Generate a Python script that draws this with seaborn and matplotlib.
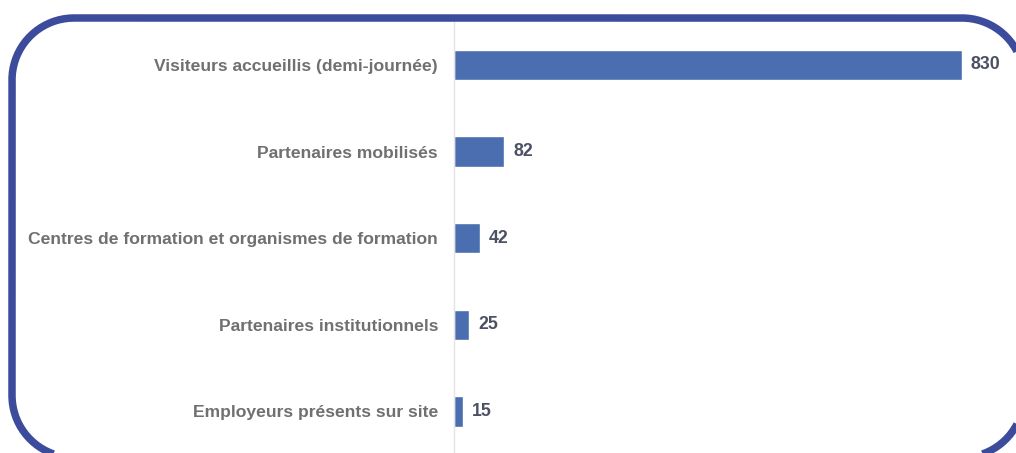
import matplotlib
matplotlib.use("Agg")
import matplotlib.pyplot as plt
import seaborn as sns
import pandas as pd
import numpy as np
from matplotlib.path import Path
from matplotlib.patches import PathPatch

categories = [
    "Visiteurs accueillis (demi-journée)",
    "Partenaires mobilisés",
    "Centres de formation et organismes de formation",
    "Partenaires institutionnels",
    "Employeurs présents sur site",
]
values = [830, 82, 42, 25, 15]

sns.set_theme(style="white")
plt.rcParams["font.family"] = ["Liberation Sans", "DejaVu Sans"]

df = pd.DataFrame({"cat": categories, "val": values})

W, H = 1016, 453
fig = plt.figure(figsize=(W / 100, H / 100), dpi=100)
fig.patch.set_facecolor("white")

ax_left = 454 / W
ax_top = 21.6 / H
ax_bottom = 454.7 / H
ax = fig.add_axes([ax_left, 1 - ax_bottom, 1 - ax_left, ax_bottom - ax_top])

sns.barplot(data=df, y="cat", x="val", orient="h", color="#4A6EB0",
            width=0.35, saturation=1, ax=ax)
ax.set_xlim(0, 918.3)
ax.set_ylim(4.5, -0.5)
ax.set_xlabel("")
ax.set_ylabel("")
ax.set_xticks([])
for s in ["top", "right", "bottom"]:
    ax.spines[s].set_visible(False)
ax.spines["left"].set_color("#e3e3e3")
ax.spines["left"].set_linewidth(1.0)
ax.tick_params(axis="y", length=0, pad=11.5)
for lbl in ax.get_yticklabels():
    lbl.set_color("#707070")
    lbl.set_fontweight("bold")
    lbl.set_fontsize(12.6)

for i, v in enumerate(values):
    ax.annotate(str(v), xy=(v, i), xytext=(9, 0), textcoords="offset pixels",
                ha="left", va="center", fontsize=12.8, fontweight="bold",
                color="#4B5063")

# rounded frame around the chart, built in pixel space (y downward);
# only the parts that fall inside the canvas are drawn
x0, y0, x1, y1, r = 12.0, 18.0, 1024.0, 457.5, 62.0
def arc(cx, cy, a0, a1, n=40):
    t = np.linspace(np.radians(a0), np.radians(a1), n)
    return list(zip(cx + r * np.cos(t), cy + r * np.sin(t)))
seg1 = arc(x1 - r, y1 - r, 0, 90)
seg2 = (arc(x0 + r, y1 - r, 90, 180) + arc(x0 + r, y0 + r, 180, 270)
        + arc(x1 - r, y0 + r, 270, 360))
verts, codes = [], []
for seg in (seg1, seg2):
    verts += seg
    codes += [Path.MOVETO] + [Path.LINETO] * (len(seg) - 1)
px = np.array(verts)
fverts = np.column_stack([px[:, 0] / W, 1 - px[:, 1] / H])
frame = PathPatch(Path(fverts, codes), transform=fig.transFigure,
                  facecolor="none", edgecolor="#3C4B9B", linewidth=5.4,
                  joinstyle="round", capstyle="butt", clip_on=False, zorder=10)
fig.patches.append(frame)

fig.savefig("out.png", dpi=100, facecolor="white")
